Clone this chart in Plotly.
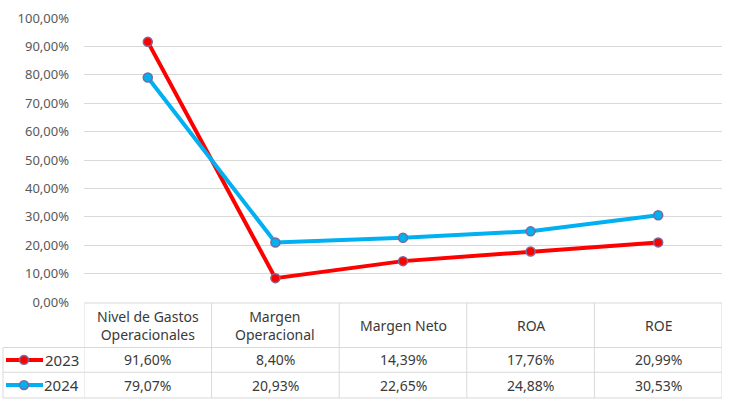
import plotly.graph_objects as go

categories = ["Nivel de Gastos<br>Operacionales", "Margen<br>Operacional", "Margen Neto", "ROA", "ROE"]
series_names = ["2023", "2024"]
values_2023 = [91.60, 8.40, 14.39, 17.76, 20.99]
values_2024 = [79.07, 20.93, 22.65, 24.88, 30.53]
colors = ["#FF0000", "#00B0F0"]
y_ticks = [0, 10, 20, 30, 40, 50, 60, 70, 80, 90, 100]

W, H = 731, 402
ML, MR, MT, MB = 84, 9, 15, 100
PW = W - ML - MR
PH = H - MT - MB

def py(Y):
    return (H - MB - Y) / PH

def px(X):
    return (X - ML) / PW

def fmt(v):
    return f"{v:.2f}".replace(".", ",") + "%"

FONT = "Noto Sans"
TXT = "#3A3A3A"
GRID = "#D9D9D9"

fig = go.Figure()
xs = list(range(len(categories)))
for name, vals, col in zip(series_names, [values_2023, values_2024], colors):
    fig.add_trace(go.Scatter(
        x=xs, y=[v / 100 for v in vals], name=name, mode="lines+markers",
        line=dict(color=col, width=4),
        marker=dict(size=9, color=col, line=dict(color="#7A6A9A", width=1.5)),
        showlegend=False, hoverinfo="skip",
    ))

shapes = []
annotations = []
top, hdr, r1, r2 = 303, 348, 373, 399
left_leg = 3
line = dict(color=GRID, width=1)
shapes.append(dict(type="line", xref="paper", yref="paper", x0=0, x1=1, y0=py(top), y1=py(top), line=line))
for Y in (hdr, r1, r2):
    shapes.append(dict(type="line", xref="paper", yref="paper", x0=px(left_leg), x1=1, y0=py(Y), y1=py(Y), line=line))
for i in range(len(categories) + 1):
    shapes.append(dict(type="line", xref="x", yref="paper", x0=i - 0.5, x1=i - 0.5, y0=py(top), y1=py(r2), line=line))
shapes.append(dict(type="line", xref="paper", yref="paper", x0=px(left_leg), x1=px(left_leg), y0=py(hdr), y1=py(r2), line=line))

for i, c in enumerate(categories):
    annotations.append(dict(x=i, y=py((top + hdr) / 2), xref="x", yref="paper", text=c, showarrow=False,
                            font=dict(family=FONT, size=14, color=TXT), xanchor="center", yanchor="middle"))
rows = [(r1, hdr), (r2, r1)]
for (yb, yt), name, vals, col in zip(rows, series_names, [values_2023, values_2024], colors):
    yc = (yb + yt) / 2
    for i, v in enumerate(vals):
        annotations.append(dict(x=i, y=py(yc), xref="x", yref="paper", text=fmt(v), showarrow=False,
                                font=dict(family=FONT, size=14, color=TXT), xanchor="center", yanchor="middle"))
    shapes.append(dict(type="line", xref="paper", yref="paper", x0=px(6), x1=px(43), y0=py(yc), y1=py(yc),
                       line=dict(color=col, width=4)))
    shapes.append(dict(type="circle", xref="paper", yref="paper", x0=px(24 - 4.5), x1=px(24 + 4.5),
                       y0=py(yc + 4.5), y1=py(yc - 4.5), fillcolor=col, line=dict(color="#7A6A9A", width=1.5)))
    annotations.append(dict(x=px(81), y=py(yc), xref="paper", yref="paper", text=name, showarrow=False,
                            font=dict(family=FONT, size=15, color=TXT), xanchor="right", yanchor="middle"))

fig.update_layout(
    width=W, height=H,
    margin=dict(l=ML, r=MR, t=MT, b=MB),
    paper_bgcolor="white", plot_bgcolor="white",
    separators=",.",
    shapes=shapes, annotations=annotations,
    hovermode=False,
    xaxis=dict(range=[-0.5, len(categories) - 0.5], showticklabels=False, showgrid=False, zeroline=False,
               showline=False, fixedrange=True),
    yaxis=dict(range=[0, 1.0], tickvals=[t / 100 for t in y_ticks], tickformat=".2%",
               showgrid=True, gridcolor=GRID, gridwidth=1, zeroline=False, showline=False, fixedrange=True,
               tickfont=dict(family=FONT, size=13, color="#595959"), ticks="", ticklabelstandoff=14),
)
fig.write_html("out.html", config={"displayModeBar": False},
               post_script="document.body.style.margin='0';document.body.style.overflow='hidden';")
